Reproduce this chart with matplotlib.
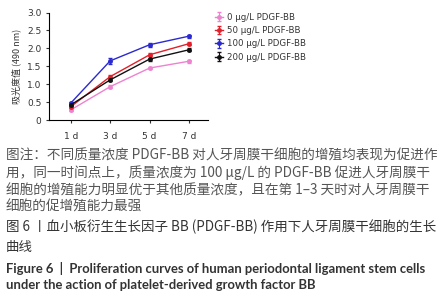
import numpy as np
import matplotlib
matplotlib.use('Agg')
import matplotlib.pyplot as plt

days = ['1 d', '3 d', '5 d', '7 d']
labels = ['0 μg/L PDGF-BB', '50 μg/L PDGF-BB', '100 μg/L PDGF-BB', '200 μg/L PDGF-BB']
od_0 = [0.28, 0.93, 1.45, 1.64]
od_50 = [0.37, 1.21, 1.82, 2.13]
od_100 = [0.47, 1.65, 2.10, 2.34]
od_200 = [0.42, 1.12, 1.70, 1.96]
err_0 = [0.03, 0.05, 0.04, 0.04]
err_50 = [0.03, 0.04, 0.04, 0.04]
err_100 = [0.03, 0.08, 0.06, 0.04]
err_200 = [0.03, 0.04, 0.04, 0.04]
colors = ['#ee82d0', '#e0202a', '#2a2ad0', '#111111']

caption = ['图注：不同质量浓度 PDGF-BB 对人牙周膜干细胞的增殖均表现为促进作',
           '用，同一时间点上，质量浓度为 100 μg/L 的 PDGF-BB 促进人牙周膜干',
           '细胞的增殖能力明显优于其他质量浓度，且在第 1–3 天时对人牙周膜干',
           '细胞的促增殖能力最强']
title_cn = ['图 6 丨血小板衍生生长因子 BB (PDGF-BB) 作用下人牙周膜干细胞的生长',
            '曲线']
title_en = ['Figure 6  |  Proliferation curves of human periodontal ligament stem cells',
            'under the action of platelet-derived growth factor BB']

cjk = ['Noto Sans CJK SC', 'DejaVu Sans']

fig = plt.figure(figsize=(4.42, 3.0), dpi=100)
ax = fig.add_axes([49 / 442, 1 - 120 / 300, 159 / 442, 107.5 / 300])

x = np.arange(len(days))
series = [od_0, od_50, od_100, od_200]
errs = [err_0, err_50, err_100, err_200]
for vals, e, c, lab in zip(series, errs, colors, labels):
    ax.errorbar(x, vals, yerr=e, color=c, marker='o', markersize=2.5, lw=1.0,
                elinewidth=0.8, capsize=1.2, label=lab)

ax.set_xlim(-0.55, 3.48)
ax.set_ylim(0, 3.0)
ax.set_xticks(x)
ax.set_xticklabels(days)
ax.set_yticks([0, 0.5, 1.0, 1.5, 2.0, 2.5, 3.0])
ax.set_yticklabels(['0', '0.5', '1.0', '1.5', '2.0', '2.5', '3.0'])
for s in ['top', 'right']:
    ax.spines[s].set_visible(False)
for s in ['left', 'bottom']:
    ax.spines[s].set_linewidth(0.8)
ax.tick_params(labelsize=6.5, length=2.5, width=0.8, colors='#333333', pad=3)
ax.tick_params(axis='x', pad=6)
ax.set_ylabel('吸光度值 (490 nm)', family=cjk, fontsize=6.5, color='#333333', labelpad=4)

leg = ax.legend(loc='upper left', bbox_to_anchor=(1.02, 1.03), frameon=False,
                fontsize=6.2, handlelength=1.0, handletextpad=0.4, labelspacing=0.5,
                borderaxespad=0)
for t in leg.get_texts():
    t.set_color('#333333')

# caption text
ys = [155.7, 172.7, 190, 206.7]
for t, yy in zip(caption, ys):
    fig.text(6 / 442, 1 - yy / 300, t, family=cjk, fontsize=9.8, color='#555555', va='center')
for t, yy in zip(title_cn, [227.3, 247.3]):
    fig.text(6 / 442, 1 - yy / 300, t, family=cjk, fontsize=9.7, color='#333333', va='center')
for t, yy in zip(title_en, [268.3, 285]):
    fig.text(6 / 442, 1 - yy / 300, t, family=['Lato', 'DejaVu Sans'], fontsize=9.4,
             fontweight='bold', color='#333333', va='center')

fig.savefig('out.png', dpi=100)
